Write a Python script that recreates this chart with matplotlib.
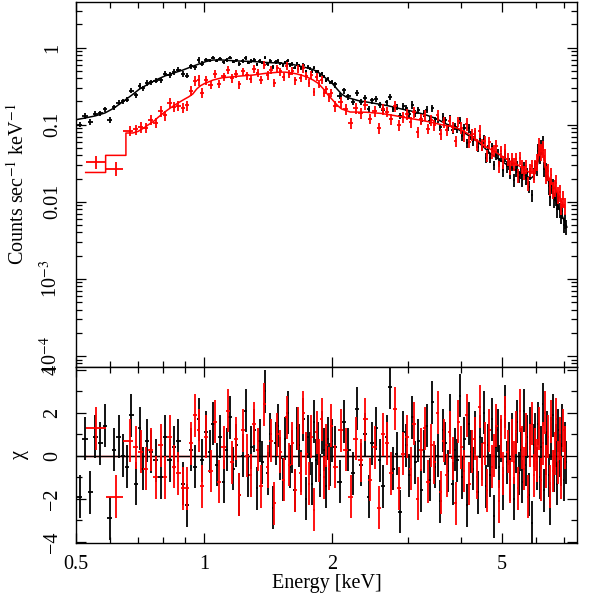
import numpy as np
import matplotlib
matplotlib.use("Agg")
import matplotlib.pyplot as plt
from matplotlib.ticker import LogLocator, NullFormatter, MultipleLocator

plt.rcParams['font.family'] = ['Liberation Serif', 'DejaVu Serif']
plt.rcParams['mathtext.fontset'] = 'stix'
plt.rcParams['font.size'] = 14.5

# ---- first spectrum (black) ----
black_energy = [
    0.51, 0.525, 0.54, 0.555, 0.57, 0.585, 0.60, 0.615, 0.63, 0.645, 0.66, 0.675, 0.69, 0.705, 0.72,
    0.735, 0.75, 0.77, 0.79, 0.81, 0.83, 0.85, 0.87, 0.89, 0.91, 0.93, 0.95, 0.97, 0.99,
    1.01, 1.03, 1.05, 1.07, 1.09, 1.11, 1.13, 1.15, 1.17, 1.19, 1.21, 1.23, 1.25, 1.27, 1.29,
    1.31, 1.33, 1.35, 1.37, 1.39, 1.41, 1.43, 1.45, 1.47, 1.49, 1.51, 1.53, 1.55, 1.57, 1.59,
    1.61, 1.63, 1.65, 1.67, 1.69, 1.71, 1.73, 1.75, 1.77, 1.79, 1.81, 1.83, 1.85, 1.87, 1.89,
    1.91, 1.93, 1.95, 1.97, 1.99,
    2.03, 2.08, 2.13, 2.18, 2.23, 2.28, 2.33, 2.38, 2.43, 2.48, 2.53, 2.58, 2.63, 2.68, 2.73,
    2.78, 2.83, 2.88, 2.93, 2.98, 3.03, 3.08, 3.13, 3.18, 3.23, 3.28, 3.33, 3.38, 3.43, 3.48,
    3.53, 3.58, 3.63, 3.68, 3.73, 3.78, 3.83, 3.88, 3.93, 3.98, 4.03, 4.08, 4.13, 4.18, 4.23,
    4.28, 4.33, 4.38, 4.43, 4.48, 4.53, 4.58, 4.63, 4.68, 4.73, 4.78, 4.83, 4.88, 4.93, 4.98,
    5.03, 5.08, 5.13, 5.18, 5.23, 5.28, 5.33, 5.38, 5.43, 5.48, 5.53, 5.58, 5.63, 5.68, 5.73,
    5.78, 5.83, 5.88, 5.93, 5.98, 6.03, 6.08, 6.13, 6.18, 6.23, 6.28, 6.33, 6.38, 6.43, 6.48,
    6.53, 6.58, 6.63, 6.68, 6.73, 6.78, 6.83, 6.88, 6.93, 6.98, 7.03, 7.08]
black_rate = [
    0.100, 0.130, 0.109, 0.139, 0.141, 0.158, 0.115, 0.169, 0.193, 0.200, 0.211, 0.276, 0.242, 0.320, 0.295,
    0.348, 0.356, 0.374, 0.377, 0.461, 0.443, 0.485, 0.517, 0.457, 0.432, 0.573, 0.557, 0.693, 0.620,
    0.696, 0.687, 0.742, 0.676, 0.721, 0.644, 0.690, 0.741, 0.655, 0.687, 0.610, 0.670, 0.735, 0.635, 0.673,
    0.700, 0.606, 0.673, 0.640, 0.742, 0.614, 0.672, 0.559, 0.649, 0.674, 0.622, 0.586, 0.645, 0.677, 0.595,
    0.611, 0.547, 0.623, 0.589, 0.545, 0.602, 0.491, 0.559, 0.533, 0.486, 0.551, 0.490, 0.494, 0.439, 0.464,
    0.426, 0.372, 0.395, 0.353, 0.357,
    0.333, 0.238, 0.278, 0.232, 0.198, 0.256, 0.197, 0.220, 0.160, 0.206, 0.215, 0.182, 0.157, 0.194, 0.230,
    0.160, 0.168, 0.130, 0.175, 0.163, 0.136, 0.181, 0.141, 0.155, 0.113, 0.140, 0.157, 0.113, 0.164, 0.115,
    0.118, 0.092, 0.126, 0.114, 0.093, 0.120, 0.085, 0.095, 0.087, 0.115, 0.0706, 0.0896, 0.058, 0.0907, 0.0731,
    0.0619, 0.0757, 0.052, 0.0670, 0.0532, 0.065, 0.0371, 0.0484, 0.0372, 0.0515, 0.030, 0.0403, 0.0425, 0.0324, 0.0376,
    0.0258, 0.0403, 0.0288, 0.0313, 0.0240, 0.0305, 0.0192, 0.0257, 0.0290, 0.0211, 0.0239, 0.0190, 0.0280, 0.0204, 0.0235,
    0.0157, 0.0234, 0.0122, 0.0234, 0.0283, 0.0277, 0.0454, 0.0400, 0.0526, 0.0577, 0.0269, 0.0263, 0.0240, 0.0159, 0.0114,
    0.0160, 0.0162, 0.0107, 0.0113, 0.0080, 0.0101, 0.0079, 0.0067, 0.0076, 0.0050, 0.0057, 0.0047]
black_chi = [
    -1.9, 0.8, -1.7, 0.9, 0.6, 1.4, -2.9, 0.3, 0.9, 0.0, -0.5, 1.9, -1.3, 1.3, -0.6,
    0.7, 0.2, -0.2, -1.0, 0.9, -0.2, 0.4, 0.7, -1.3, -2.3, 0.3, -0.5, 1.7, -0.2,
    1.1, 0.2, 1.5, -0.4, 0.9, -1.2, 0.3, 1.8, -0.6, 0.5, -1.8, 0.0, 2.1, -0.9, 0.4,
    1.2, -1.5, 0.7, -0.3, 3.0, -0.8, 1.0, -2.4, 0.6, 1.4, -0.1, -1.1, 0.8, 2.0, -0.5,
    0.2, -1.6, 1.3, 0.5, -0.7, 1.7, -2.0, 0.9, 0.1, -1.3, 1.6, -0.2, 0.6, -0.9, 1.1,
    0.3, -1.4, 0.8, -0.4, 0.7,
    0.4, -1.2, 1.6, 0.3, -0.8, 2.2, -0.4, 1.0, -1.9, 0.6, 1.3, -0.2, -1.4, 0.9, 3.2,
    -0.6, 0.1, -2.6, 1.1, 0.5, -0.9, 1.8, -0.3, 0.7, -1.6, 0.2, 1.4, -1.1, 2.5, -0.5,
    0.0, -2.1, 1.2, 0.6, -0.7, 1.9, -1.3, 0.3, -0.2, 2.8, -1.0, 0.8, -2.3, 1.5, 0.2,
    -0.6, 1.1, -1.7, 0.9, -0.1, 2.0, -1.4, 0.5, -0.9, 1.7, -2.8, 0.4, 1.2, -0.5, 0.7,
    -1.5, 2.3, -0.3, 0.6, -1.1, 1.0, -2.0, 0.2, 1.6, -0.8, 0.3, -1.2, 2.1, -0.4, 0.9,
    -1.8, 1.3, -3.1, 0.5, 1.0, -0.6, 1.5, -1.0, 0.4, 2.4, -1.6, 0.1, 1.1, -0.9, -2.2,
    0.8, 1.9, -0.7, 0.5, -1.3, 1.2, 0.0, -0.4, 1.4, -1.1, 0.6, -0.3]
# fractional 1-sigma errors by energy band (lo, hi, frac)
black_err_bands = [(0.5, 1.0, 0.08), (1.0, 2.0, 0.05), (2.0, 3.0, 0.09), (3.0, 4.0, 0.11),
                   (4.0, 5.0, 0.14), (5.0, 6.0, 0.18), (6.0, 7.5, 0.22)]
black_model_energy = [0.50, 0.525, 0.555, 0.585, 0.615, 0.645, 0.675, 0.705, 0.735, 0.77, 0.81, 0.85, 0.89,
                      0.93, 0.97, 1.01, 1.05, 1.1, 1.2, 1.3, 1.4, 1.5, 1.6, 1.7, 1.8, 1.85, 1.9, 1.95,
                      2.0, 2.05, 2.1, 2.15, 2.2, 2.3, 2.5, 2.7, 2.9, 3.1, 3.3, 3.5, 3.7, 3.9, 4.1, 4.3,
                      4.5, 4.7, 4.9, 5.1, 5.3, 5.5, 5.7, 5.85, 5.95, 6.05, 6.12, 6.18, 6.24, 6.3, 6.38,
                      6.5, 6.7, 6.9, 7.1]
black_model_rate = [0.116, 0.122, 0.13, 0.142, 0.165, 0.2, 0.24, 0.29, 0.33, 0.38, 0.43, 0.47, 0.51,
                    0.56, 0.61, 0.66, 0.69, 0.69, 0.67, 0.66, 0.64, 0.63, 0.61, 0.565, 0.52, 0.48, 0.43, 0.38,
                    0.34, 0.29, 0.25, 0.23, 0.22, 0.205, 0.19, 0.176, 0.16, 0.148, 0.135, 0.12, 0.102, 0.09,
                    0.077, 0.065, 0.053, 0.042, 0.036, 0.031, 0.027, 0.0235, 0.0215, 0.0202, 0.022, 0.03,
                    0.043, 0.05, 0.042, 0.032, 0.021, 0.0152, 0.01, 0.0068, 0.0047]

# ---- second spectrum (red) ----
red_energy = [
    0.557, 0.621, 0.668, 0.69, 0.71, 0.73, 0.75, 0.77, 0.79, 0.81, 0.83, 0.85, 0.87, 0.89, 0.91,
    0.93, 0.95, 0.97, 0.99,
    1.01, 1.035, 1.06, 1.085, 1.11, 1.135, 1.16, 1.185, 1.21, 1.235, 1.26, 1.285, 1.31, 1.335, 1.36,
    1.385, 1.41, 1.435, 1.46, 1.485, 1.51, 1.535, 1.56, 1.585, 1.61, 1.635, 1.66, 1.685, 1.71, 1.735,
    1.76, 1.785, 1.81, 1.835, 1.86, 1.885, 1.91, 1.935, 1.96, 1.985,
    2.03, 2.09, 2.15, 2.21, 2.27, 2.33, 2.39, 2.45, 2.51, 2.57, 2.63, 2.69, 2.75, 2.81, 2.87,
    2.93, 2.99, 3.05, 3.11, 3.17, 3.23, 3.29, 3.35, 3.41, 3.47, 3.53, 3.59, 3.65, 3.71, 3.77,
    3.83, 3.89, 3.95, 4.01, 4.07, 4.13, 4.19, 4.25, 4.31, 4.37, 4.43, 4.49, 4.55, 4.61, 4.67,
    4.73, 4.79, 4.85, 4.91, 4.97, 5.03, 5.09, 5.15, 5.21, 5.27, 5.33, 5.39, 5.45, 5.51, 5.57,
    5.63, 5.69, 5.75, 5.81, 5.87, 5.93, 5.99, 6.05, 6.11, 6.17, 6.23, 6.29, 6.35, 6.41, 6.47,
    6.53, 6.59, 6.65, 6.71, 6.77, 6.83, 6.89, 6.95, 7.01]
red_rate = [
    0.033, 0.027, 0.083, 0.087, 0.093, 0.091, 0.115, 0.106, 0.150, 0.132, 0.193, 0.171, 0.176, 0.167, 0.178,
    0.273, 0.373, 0.378, 0.261,
    0.377, 0.330, 0.453, 0.338, 0.424, 0.513, 0.400, 0.460, 0.333, 0.492, 0.435, 0.392, 0.525, 0.466, 0.379,
    0.592, 0.437, 0.509, 0.350, 0.538, 0.492, 0.417, 0.581, 0.452, 0.504, 0.376, 0.526, 0.402, 0.539, 0.430,
    0.346, 0.438, 0.266, 0.413, 0.337, 0.385, 0.260, 0.286, 0.227, 0.257,
    0.176, 0.196, 0.160, 0.106, 0.165, 0.142, 0.182, 0.120, 0.151, 0.090,
    0.160, 0.148, 0.117, 0.173, 0.098, 0.126, 0.138, 0.109, 0.145, 0.081,
    0.119, 0.134, 0.089, 0.115, 0.099, 0.133, 0.075, 0.109, 0.085, 0.112,
    0.093, 0.062, 0.110, 0.091, 0.073, 0.102, 0.060, 0.074, 0.076, 0.055,
    0.083, 0.055, 0.061, 0.040, 0.059, 0.044, 0.046, 0.053, 0.029, 0.045,
    0.033, 0.047, 0.036, 0.028, 0.036, 0.031, 0.036, 0.022, 0.037, 0.029,
    0.024, 0.029, 0.0175, 0.026, 0.029, 0.022, 0.029, 0.033, 0.053, 0.045,
    0.049, 0.039, 0.023, 0.025, 0.016, 0.022, 0.0143, 0.0152, 0.0176, 0.0124,
    0.0134, 0.0089, 0.0110, 0.0090]
red_chi = [
    1.3, -1.9, 0.7, 0.4, 0.2, -0.6, 0.3, -1.0, 0.5, -1.0, 0.9, -0.5, -0.8, -1.5, -1.5,
    0.6, 1.9, 1.2, -1.4,
    0.9, -0.7, 1.6, -1.2, 0.4, 2.1, -0.3, 0.8, -1.8, 1.2, 0.0, -0.9, 1.5, 0.3, -1.4,
    2.4, -0.5, 0.7, -2.2, 1.0, 0.2, -1.1, 1.8, -0.4, 0.6, -1.6, 1.3, -0.8, 2.0, 0.1,
    -1.3, 0.9, -2.5, 1.1, -0.2, 1.7, -1.0, 0.5, -0.6, 1.4,
    -0.5, 1.2, 0.3, -1.9, 0.8, -0.2, 1.7, -1.1, 0.4, -2.4,
    1.0, 0.6, -0.8, 2.2, -1.5, 0.1, 0.9, -0.6, 1.5, -2.0,
    0.3, 1.3, -1.2, 0.5, -0.3, 2.0, -1.7, 0.7, -0.9, 1.1,
    -0.1, -2.2, 1.6, 0.4, -0.7, 1.9, -1.3, 0.2, 0.8, -1.0,
    2.3, -0.4, 0.6, -1.6, 1.2, -0.5, 0.0, 1.4, -2.1, 0.9,
    -0.8, 1.8, 0.2, -1.2, 0.7, -0.3, 1.1, -1.5, 2.1, 0.4,
    -0.6, 1.0, -1.9, 0.5, 1.5, -0.9, 0.3, -0.2, 1.3, -1.1,
    0.6, 2.0, -0.5, 0.9, -1.4, 1.6, -0.7, 0.1, 1.7, -0.3,
    0.8, -1.0, 1.2, 0.4]
red_err_bands = [(0.5, 0.66, 0.20), (0.66, 1.0, 0.15), (1.0, 2.0, 0.12), (2.0, 4.0, 0.16),
                 (4.0, 5.0, 0.18), (5.0, 6.0, 0.20), (6.0, 7.5, 0.25)]
red_model_energy = [0.527, 0.587, 0.587, 0.655, 0.655, 0.68, 0.70, 0.72, 0.74, 0.76, 0.78, 0.80, 0.82,
                    0.84, 0.86, 0.88, 0.90, 0.92, 0.94, 0.96, 0.98, 1.0, 1.05, 1.1, 1.2, 1.3, 1.4, 1.5,
                    1.55, 1.6, 1.65, 1.7, 1.75, 1.8, 1.85, 1.9, 1.95, 2.0, 2.05, 2.1, 2.2, 2.4, 2.6,
                    2.8, 3.0, 3.2, 3.4, 3.6, 3.8, 4.0, 4.2, 4.4, 4.6, 4.8, 5.0, 5.2, 5.4, 5.6, 5.8,
                    5.95, 6.05, 6.12, 6.17, 6.23, 6.3, 6.4, 6.6, 6.8, 7.0]
red_model_rate = [0.024, 0.024, 0.040, 0.040, 0.078, 0.078, 0.082, 0.09, 0.10, 0.11, 0.125, 0.14, 0.155,
                  0.17, 0.185, 0.20, 0.215, 0.23, 0.25, 0.29, 0.32, 0.34, 0.38, 0.405, 0.425, 0.44, 0.465,
                  0.48, 0.48, 0.47, 0.455, 0.435, 0.41, 0.38, 0.345, 0.295, 0.245, 0.21, 0.18, 0.16,
                  0.146, 0.145, 0.14, 0.131, 0.122, 0.115, 0.108, 0.1, 0.095, 0.087, 0.074, 0.061,
                  0.051, 0.045, 0.039, 0.034, 0.031, 0.027, 0.024, 0.025, 0.031, 0.046, 0.054, 0.045,
                  0.029, 0.022, 0.016, 0.012, 0.0085]


def bin_halfwidths(energy):
    e = np.asarray(energy)
    mid = np.sqrt(e[:-1] * e[1:])
    lo = np.r_[e[0] ** 2 / mid[0], mid]
    hi = np.r_[mid, e[-1] ** 2 / mid[-1]]
    return np.vstack([e - lo, hi - e]), lo[0], hi[-1]


def band_frac(energy, bands):
    e = np.asarray(energy)
    out = np.zeros_like(e)
    for lo, hi, f in bands:
        out[(e >= lo) & (e < hi)] = f
    return out


fig = plt.figure(figsize=(5.98, 6.06), dpi=100)
ax1 = fig.add_axes([0.127, 0.3944, 0.838, 0.6023])
ax2 = fig.add_axes([0.127, 0.104, 0.838, 0.2904], sharex=ax1)

series = [
    (black_energy, black_rate, black_chi, black_err_bands, black_model_energy, black_model_rate, 'black'),
    (red_energy, red_rate, red_chi, red_err_bands, red_model_energy, red_model_rate, 'red'),
]
zero_z = {'black': 1.5, 'red': 1.0}
for z, (en, rate, chi, bands, men, mrate, col) in enumerate(series):
    xerr, e_lo, e_hi = bin_halfwidths(en)
    rate = np.asarray(rate)
    yerr = rate * band_frac(en, bands)
    ax1.errorbar(en, rate, xerr=xerr, yerr=yerr, fmt='none', ecolor=col,
                 elinewidth=1.3, capsize=0, zorder=2 + 2 * z)
    ax1.plot(men, mrate, color=col, lw=1.1, zorder=3 + 2 * z)
    ax2.plot([e_lo, e_hi], [0, 0], color=col, lw=1.0, zorder=zero_z[col])
    ax2.errorbar(en, chi, xerr=xerr, yerr=np.ones(len(chi)), fmt='none', ecolor=col,
                 elinewidth=1.3, capsize=0, zorder=2 + 2 * z)

ax1.set_xscale('log')
ax1.set_yscale('log')
ax1.set_xlim(0.5, 7.5)
ax1.set_ylim(7.2e-5, 3.9)
ax1.set_yticks([1e-4, 1e-3, 1e-2, 0.1, 1])
ax1.set_yticklabels([r'10$^{-4}$', r'10$^{-3}$', '0.01', '0.1', '1'])
ax1.yaxis.set_minor_locator(LogLocator(base=10, subs=np.arange(2, 10)))
ax1.yaxis.set_minor_formatter(NullFormatter())
ax1.set_ylabel(r'Counts sec$^{-1}$ keV$^{-1}$')
ax1.yaxis.set_label_coords(-0.094, 0.5)

ax2.set_ylim(-4.05, 4.14)
ax2.set_yticks([-4, -2, 0, 2, 4])
ax2.set_yticklabels(['\u22124', '\u22122', '0', '2', '4'])
ax2.yaxis.set_minor_locator(MultipleLocator(1))
ax2.set_ylabel('\u03c7')
ax2.yaxis.set_label_coords(-0.094, 0.5)

ax2.set_xticks([0.5, 1, 2, 5])
ax2.set_xticklabels(['0.5', '1', '2', '5'])
ax2.set_xticks([0.6, 0.7, 0.8, 0.9, 3, 4, 6, 7], minor=True)
ax2.xaxis.set_minor_formatter(NullFormatter())
ax2.set_xlabel('Energy [keV]', labelpad=0)
plt.setp(ax1.get_xticklabels(), visible=False)

for ax in (ax1, ax2):
    ax.tick_params(which='both', direction='in', top=True, right=True, width=0.9)
    ax.tick_params(which='major', length=7)
    ax.tick_params(which='minor', length=4)
    ax.tick_params(axis='y', which='major', pad=10)
    ax.tick_params(axis='x', which='major', pad=9)
    for s in ax.spines.values():
        s.set_linewidth(1.0)
    for lab in ax.get_yticklabels():
        lab.set_rotation(90)
        lab.set_va('center')

fig.savefig('out.png', dpi=100)
